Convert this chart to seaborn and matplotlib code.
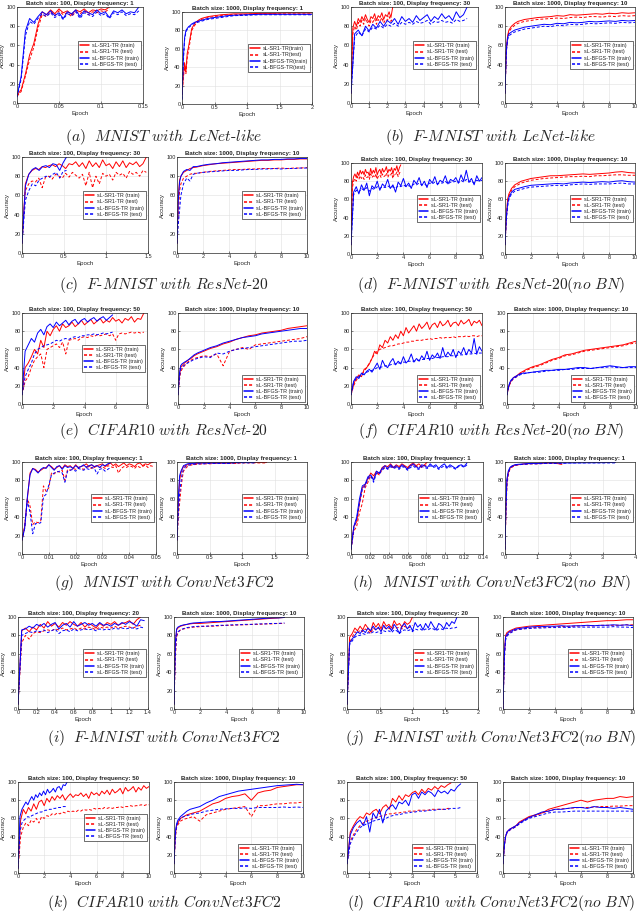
import numpy as np
import pandas as pd
import matplotlib
matplotlib.use('Agg')
import matplotlib.pyplot as plt
import seaborn as sns
from matplotlib.lines import Line2D
from matplotlib.ticker import FuncFormatter

# --- curve values (accuracy %), one list per curve ---
# left panels: evenly spaced points from 0 to the curve end (epochs)
# right panels: values at the panel x list

# (a) MNIST with LeNet-like
a1_end = [0.11, 0.11, 0.145, 0.145]
a1_sr1_tr = [8, 14, 30, 50, 62, 82, 95, 92, 97, 93, 98, 94, 96, 92, 97, 95, 98, 94, 97, 96, 98, 97, 100]
a1_sr1_te = [7, 12, 28, 45, 58, 78, 92, 90, 95, 91, 96, 92, 94, 90, 95, 93, 96, 92, 95, 94, 96, 95, 98]
a1_bf_tr = [7, 28, 75, 88, 84, 90, 95, 92, 96, 91, 94, 88, 95, 93, 97, 90, 96, 94, 92, 97, 93, 95, 89, 96, 94, 97, 93, 95, 94, 100]
a1_bf_te = [6, 25, 70, 85, 82, 88, 93, 90, 94, 89, 92, 87, 93, 91, 95, 88, 94, 92, 90, 95, 91, 93, 88, 94, 92, 95, 91, 93, 92, 96]

a2_x = [0, 0.02, 0.04, 0.06, 0.08, 0.1, 0.12, 0.15, 0.2, 0.25, 0.3, 0.4, 0.5, 0.6, 0.7, 0.8, 1.0, 1.2, 1.4, 1.6, 1.8, 2.0]
a2_sr1_tr = [10, 30, 45, 35, 55, 62, 70, 82, 88, 91, 93, 95, 96, 97, 97.5, 98, 98, 98.5, 98.5, 99, 99, 99]
a2_sr1_te = [10, 28, 40, 33, 50, 58, 66, 80, 86, 90, 92, 94, 95, 96, 97, 97, 97.5, 98, 98, 98, 98, 98]
a2_bf_tr = [5, 50, 72, 80, 82, 84, 85, 87, 89, 90, 91, 93, 94, 95, 96, 96.5, 97, 97.5, 97.5, 97.5, 97.5, 97.5]
a2_bf_te = [5, 45, 70, 78, 81, 83, 84, 86, 88, 89, 90, 92, 93, 94, 95, 96, 96.5, 97, 97, 97, 97, 97]

# shared x list for the batch-1000 panels that run over 10 epochs
x_ep10 = [0, 0.1, 0.2, 0.3, 0.5, 0.75, 1, 1.25, 1.5, 2, 2.5, 3, 3.5, 4, 4.5, 5, 5.5, 6, 6.5, 7, 7.5, 8, 8.5, 9, 9.5, 10]

# (b) F-MNIST with LeNet-like
b1_end = [2.3, 2.3, 6.4, 6.4]
b1_sr1_tr = [10, 78, 85, 80, 88, 84, 90, 86, 92, 87, 84, 90, 88, 93, 86, 91, 89, 94, 87, 92, 90, 95, 89, 100]
b1_sr1_te = [10, 72, 80, 76, 84, 80, 86, 82, 88, 84, 80, 86, 84, 88, 82, 87, 85, 89, 83, 87, 86, 90, 85, 88]
b1_bf_tr = [10, 72, 76, 70, 80, 75, 82, 78, 85, 80, 86, 83, 88, 82, 90, 85, 88, 84, 91, 86, 89, 92, 85, 90, 87, 93, 88, 91, 86, 95, 89, 92, 100]
b1_bf_te = [10, 68, 74, 70, 77, 74, 79, 77, 81, 78, 82, 80, 83, 80, 84, 82, 84, 82, 85, 83, 84, 86, 82, 85, 84, 86, 84, 85, 83, 87, 85, 86, 88]

b2_sr1_tr = [10, 55, 70, 76, 80, 83, 85, 86, 87, 88, 89, 89.5, 90, 91, 90.5, 92, 91.5, 92, 92.5, 93, 92.5, 93.5, 93, 94, 93.5, 94]
b2_sr1_te = [10, 53, 68, 74, 78, 81, 83, 84, 85, 86, 87, 87.5, 88, 88.5, 88, 89, 89.5, 89, 90, 90, 89.5, 90.5, 90, 91, 90.5, 91]
b2_bf_tr = [10, 55, 68, 72, 74, 76, 77, 78, 79, 80, 81, 82, 81.5, 83, 82.5, 84, 83.5, 84, 85, 84.5, 85, 85.5, 85, 86, 85.5, 86]
b2_bf_te = [10, 53, 66, 70, 72, 74, 75, 76, 77, 78, 79, 80, 79.5, 81, 80.5, 82, 81.5, 82, 83, 82.5, 83, 83.5, 83, 84, 83.5, 84]

# (c) F-MNIST with ResNet-20
c1_end = [1.48, 1.48, 0.53, 0.53]
c1_sr1_tr = [10, 72, 82, 86, 88, 87, 90, 89, 91, 92, 90, 93, 91, 88, 93, 92, 95, 90, 94, 88, 96, 90, 94, 89, 97, 91, 93, 88, 95, 90, 96, 89, 94, 92, 95, 90, 93, 100]
c1_sr1_te = [10, 65, 72, 75, 74, 78, 68, 79, 80, 77, 82, 80, 78, 83, 79, 84, 81, 78, 82, 70, 84, 68, 80, 72, 83, 80, 82, 76, 84, 81, 83, 78, 85, 82, 84, 80, 86, 84]
c1_bf_tr = [10, 70, 82, 87, 89, 86, 90, 91, 89, 93, 92, 86, 94, 100]
c1_bf_te = [10, 55, 65, 72, 70, 76, 78, 80, 79, 82, 84, 78, 85, 86]

c2_sr1_tr = [10, 60, 76, 80, 84, 86, 88, 89, 89.5, 91, 92, 93, 93.5, 94, 94.5, 95, 95.5, 96, 96.5, 96.5, 97, 97, 97.5, 97.5, 98, 98]
c2_sr1_te = [10, 40, 65, 72, 78, 80, 82, 83, 83, 84, 85, 85.5, 86, 86.5, 87, 87, 87.5, 87.5, 88, 88, 88, 88.5, 88, 88.5, 88.5, 89]
c2_bf_tr = [10, 55, 74, 80, 85, 87, 86, 90, 90, 91.5, 92.5, 93, 94, 94.5, 95, 95.5, 96, 96.5, 97, 97, 97.5, 97.5, 98, 98, 98.5, 98.5]
c2_bf_te = [10, 30, 45, 60, 72, 78, 75, 82, 83, 84, 84.5, 85, 85.5, 86, 86, 86.5, 87, 87, 87.5, 87.5, 88, 87.5, 88, 88, 88.5, 88.5]

# (d) F-MNIST with ResNet-20(no BN)
d1_end = [3.8, 3.8, 10, 10]
d1_sr1_tr = [10, 78, 85, 88, 84, 90, 86, 92, 88, 91, 87, 93, 89, 90, 86, 94, 88, 92, 89, 95, 87, 91, 93, 88, 94, 90, 92, 96, 89, 93, 91, 95, 88, 94, 92, 97, 90, 95, 98]
d1_sr1_te = [10, 72, 80, 83, 80, 85, 82, 86, 83, 85, 82, 87, 84, 85, 82, 88, 84, 86, 84, 88, 82, 86, 87, 84, 88, 85, 86, 89, 84, 87, 86, 89, 83, 88, 87, 90, 85, 89, 91]
d1_bf_tr = [10, 68, 74, 66, 76, 70, 78, 64, 75, 72, 80, 70, 77, 74, 82, 72, 76, 68, 79, 75, 83, 74, 78, 72, 81, 77, 84, 75, 80, 73,
            82, 78, 85, 76, 81, 79, 86, 77, 82, 80, 84, 78, 87, 80, 92, 79, 83, 76, 86, 80, 84]
d1_bf_te = [10, 65, 70, 68, 72, 70, 73, 69, 72, 71, 74, 72, 74, 73, 75, 73, 74, 72, 75, 74, 76, 74, 75, 74, 77, 76, 78, 76, 77, 75,
            78, 77, 79, 77, 78, 78, 80, 77, 79, 79, 80, 78, 81, 79, 82, 79, 80, 78, 81, 80, 81]

d2_sr1_tr = [10, 40, 60, 66, 72, 76, 78, 80, 81, 83, 84, 85, 86, 86, 86.5, 87, 87.5, 88, 87.5, 88, 88.5, 89, 90, 90.5, 89.5, 89]
d2_sr1_te = [10, 38, 58, 64, 70, 74, 76, 78, 79, 81, 82, 83, 83.5, 84, 84.5, 85, 85, 85.5, 85, 86, 86, 86.5, 87, 87, 86.5, 86.5]
d2_bf_tr = [10, 40, 55, 62, 68, 71, 72, 73, 74, 75.5, 76, 76.5, 77, 77.5, 77, 78, 78.5, 79, 78.5, 79, 79.5, 79, 80, 80.5, 79.5, 79]
d2_bf_te = [10, 38, 52, 60, 66, 69, 70, 71, 72, 73.5, 74, 74.5, 75, 75.5, 75, 76, 76.5, 77, 76.5, 77, 77, 77, 77.5, 78, 77, 77]

# (e) CIFAR10 with ResNet-20
e1_end = [7.8, 7.8, 5.8, 5.8]
e1_sr1_tr = [10, 40, 45, 52, 60, 55, 70, 62, 80, 75, 82, 86, 80, 88, 84, 86, 90, 85, 88, 92, 87, 90, 93, 88, 91, 94, 89, 92, 90, 95, 91, 93, 89, 94, 92, 96, 90, 94, 93, 100]
e1_sr1_te = [10, 25, 30, 40, 48, 52, 55, 40, 60, 62, 64, 66, 62, 68, 55, 70, 71, 72, 70, 73, 74, 73, 75, 74, 76, 75, 76, 77, 75, 77, 70, 77, 78, 77, 78, 79, 78, 79, 78, 79]
e1_bf_tr = [10, 58, 65, 72, 68, 78, 82, 76, 85, 88, 84, 90, 86, 89, 92, 87, 91, 93, 88, 92, 94, 90, 93, 95, 91, 94, 96, 92, 95, 98]
e1_bf_te = [10, 30, 38, 45, 55, 60, 62, 64, 65, 66, 68, 70, 69, 71, 72, 71, 73, 74, 73, 75, 75, 76, 76, 77, 76, 77, 78, 77, 78, 79]

e2_sr1_tr = [10, 30, 40, 42, 45, 48, 50, 53, 55, 58, 61, 63, 66, 68, 71, 73, 75, 76, 78, 79, 80, 81, 83, 84, 85, 86]
e2_sr1_te = [10, 25, 35, 38, 42, 46, 48, 50, 51, 53, 52, 55, 42, 58, 60, 62, 60, 65, 66, 67, 68, 69, 70, 71, 72, 74]
e2_bf_tr = [10, 32, 42, 44, 46, 48, 51, 54, 56, 59, 62, 64, 67, 69, 71, 73, 74, 75, 77, 78, 79, 80, 81, 82, 83, 83]
e2_bf_te = [10, 28, 38, 40, 43, 45, 47, 49, 50, 52, 51, 56, 55, 58, 60, 61, 62, 63, 64, 65, 66, 67, 68, 69, 69, 70]

# (f) CIFAR10 with ResNet-20(no BN)
f1_end = [10, 10, 10, 10]
f1_sr1_tr = [10, 22, 28, 32, 30, 38, 40, 44, 50, 58, 55, 65, 62, 70, 67, 74, 70, 76, 72, 80, 75, 84, 78, 82, 86, 80, 88, 83, 86, 90,
             82, 87, 89, 84, 91, 86, 88, 92, 85, 89, 90, 86, 92, 88, 90, 93, 86, 91, 89, 92, 86]
f1_sr1_te = [10, 20, 26, 30, 32, 36, 40, 45, 50, 55, 58, 60, 61, 62, 63, 64, 64, 65, 66, 66, 67, 68, 68, 69, 69, 70, 70, 70, 71, 71,
             72, 71, 72, 72, 73, 72, 73, 73, 73, 74, 73, 74, 74, 74, 75, 74, 75, 75, 74, 75, 75]
f1_bf_tr = [10, 25, 30, 28, 34, 32, 36, 38, 35, 40, 45, 38, 48, 42, 40, 46, 50, 43, 47, 44, 52, 45, 48, 55, 46, 50, 47, 53, 49, 58,
            48, 54, 51, 56, 50, 62, 52, 57, 53, 60, 51, 58, 55, 62, 54, 60, 56, 72, 55, 63, 58]
f1_bf_te = [10, 24, 28, 30, 32, 33, 35, 36, 37, 38, 40, 40, 41, 42, 42, 43, 44, 44, 45, 45, 46, 46, 47, 47, 47, 48, 48, 49, 49, 50,
            50, 50, 51, 51, 51, 52, 52, 52, 53, 53, 53, 54, 54, 54, 55, 55, 55, 56, 55, 56, 56]

f2_sr1_tr = [10, 17, 22, 25, 29, 31, 34, 36, 38, 41, 43, 46, 49, 51, 54, 55, 57, 59, 60, 61, 62, 63, 64, 65, 67, 69]
f2_sr1_te = [10, 17, 21, 24, 28, 30, 33, 35, 37, 40, 42, 45, 48, 50, 53, 54, 56, 58, 59, 60, 61, 62, 63, 64, 66, 67]
f2_bf_tr = [10, 18, 23, 26, 29, 31, 33, 34, 34, 35, 36, 37, 37, 38, 38, 39, 40, 40, 39, 40, 41, 42, 41, 40, 41, 41]
f2_bf_te = [10, 18, 22, 25, 28, 30, 32, 33, 34, 35, 35, 36, 37, 37, 38, 38, 39, 39, 39, 40, 40, 41, 40, 40, 40, 40]

# (g) MNIST with ConvNet3FC2
g1_end = [0.049, 0.049, 0.033, 0.033]
g1_sr1_tr = [15, 30, 60, 88, 93, 92, 89, 91, 93, 94, 97, 95, 92, 94, 96, 93, 97, 95, 96, 93, 97, 94, 95, 96, 98,
             95, 97, 94, 96, 97, 98, 95, 97, 99, 96, 98, 95, 97, 99, 96, 98, 97, 95, 98, 99, 96, 98, 97, 99, 100]
g1_sr1_te = [15, 30, 60, 52, 32, 35, 34, 36, 74, 68, 72, 88, 87, 90, 89, 91, 80, 92, 91, 93, 92, 94, 93, 92, 95,
             94, 93, 95, 96, 94, 95, 93, 96, 95, 94, 96, 88, 93, 95, 94, 96, 95, 93, 96, 94, 95, 97, 94, 96, 95]
g1_bf_tr = [15, 28, 62, 86, 93, 91, 88, 92, 94, 93, 97, 94, 91, 95, 96, 92, 96, 94, 95, 93, 96, 94, 95, 97, 94, 96, 97, 95, 96, 94, 97, 96, 98, 99]
g1_bf_te = [15, 28, 58, 45, 22, 33, 33, 34, 62, 65, 75, 86, 88, 89, 90, 88, 78, 90, 91, 92, 90, 93, 92, 91, 93, 92, 94, 93, 87, 92, 93, 90, 92, 94]

g2_x = [0, 0.02, 0.04, 0.06, 0.08, 0.1, 0.13, 0.16, 0.2, 0.25, 0.3, 0.4, 0.5, 0.6, 0.7, 0.8, 0.9, 1.0, 1.1, 1.2, 1.3, 1.38]
g2_sr1_tr = [15, 55, 80, 88, 92, 95, 96, 97, 98, 98, 98.5, 99, 99, 99, 99, 99, 99, 99.5, 99.5, 99.5, 99.5, 99.5]
g2_sr1_te = [15, 40, 55, 70, 82, 90, 93, 95, 96.5, 97, 97.5, 98, 98, 98.5, 98.5, 98.5, 98.5, 99, 99, 99, 99, 99]
g2_bf_tr = [15, 60, 85, 90, 93, 96, 97, 98, 98.5, 98.5, 99, 99, 99, 99, 99, 99, 99.5, 99.5, 99.5, 99.5]
g2_bf_te = [15, 45, 65, 78, 88, 92, 95, 96, 97, 97.5, 98, 98, 98.5, 98.5, 98.5, 98.5, 99, 99, 99, 99]

# (h) MNIST with ConvNet3FC2(no BN)
h1_end = [0.081, 0.081, 0.123, 0.123]
h1_sr1_tr = [5, 30, 35, 55, 72, 75, 82, 88, 85, 90, 87, 94, 96, 95, 98, 94, 97, 95, 98, 96, 94, 97, 99, 96, 98, 95, 97, 100]
h1_sr1_te = [5, 25, 30, 45, 55, 72, 78, 85, 82, 88, 86, 92, 94, 93, 96, 93, 95, 94, 96, 95, 93, 96, 97, 95, 96, 94, 96, 97]
h1_bf_tr = [5, 30, 40, 60, 74, 76, 84, 86, 80, 90, 88, 93, 96, 93, 97, 94, 96, 93, 97, 95, 92, 96, 98, 95, 93, 97, 96, 94, 98, 95,
            97, 93, 96, 98, 94, 97, 95, 93, 96, 97, 95, 99]
h1_bf_te = [5, 28, 38, 55, 70, 74, 82, 85, 78, 88, 87, 91, 94, 92, 95, 93, 94, 92, 95, 94, 91, 94, 96, 93, 92, 95, 94, 93, 96, 94,
            95, 92, 94, 96, 93, 95, 94, 92, 95, 96, 94, 97]

h2_x = [0, 0.03, 0.06, 0.1, 0.15, 0.2, 0.3, 0.4, 0.6, 0.8, 1.0, 1.25, 1.5, 1.75, 2.0, 2.5, 3.0, 3.4]
h2_sr1_tr = [5, 50, 80, 88, 93, 95, 96.5, 97, 98, 98.5, 98.5, 99, 99, 97.5]
h2_sr1_te = [5, 48, 75, 86, 92, 94, 96, 97, 97.5, 98, 98, 98.5, 98.5, 98]
h2_bf_tr = [5, 55, 82, 90, 94, 95.5, 97, 97.5, 98, 98.5, 98.5, 99, 99, 99, 99, 99.2, 99.3, 99.5]
h2_bf_te = [5, 50, 78, 88, 93, 95, 96.5, 97, 97.5, 98, 98, 98.5, 98.5, 98.5, 99, 99, 99, 99]

# (i) F-MNIST with ConvNet3FC2
i1_end = [1.32, 1.32, 1.36, 1.36]
i1_sr1_tr = [5, 85, 88, 84, 89, 86, 92, 88, 95, 90, 93, 89, 94, 91, 95, 92, 90, 94, 89, 93, 91, 88, 93, 90, 94, 92, 95, 91, 93, 94, 96, 92, 97, 100]
i1_sr1_te = [5, 72, 80, 76, 82, 84, 83, 85, 86, 85, 87, 86, 88, 86, 87, 88, 86, 88, 87, 89, 88, 86, 89, 88, 89, 88, 90, 88, 89, 90, 89, 88, 90, 91]
i1_bf_tr = [5, 86, 87, 90, 88, 92, 90, 93, 89, 92, 94, 87, 91, 93, 89, 95, 90, 92, 94, 91, 93, 90, 94, 91, 92, 90, 93, 91, 94, 92, 95, 93, 90, 97, 96]
i1_bf_te = [5, 80, 82, 84, 83, 85, 84, 86, 83, 85, 87, 82, 85, 86, 84, 87, 85, 86, 87, 86, 87, 85, 87, 86, 87, 86, 88, 87, 88, 87, 88, 88, 87, 89, 88]

i2_sr1_tr = [5, 70, 86, 88, 90, 91, 92, 92.5, 93, 93, 93.5, 94, 94.5, 95, 95.5, 96, 96.5, 97, 97.5, 98, 98.5, 99, 99.5]
i2_sr1_te = [5, 55, 78, 83, 86, 87, 88, 88.5, 89, 89.5, 90, 90, 90.5, 91, 91, 91.5, 91.5, 92, 92, 92.5, 92.5, 93, 93]
i2_bf_tr = [5, 72, 87, 89, 90.5, 91.5, 92, 93, 93.5, 94, 94.5, 95, 95, 95.5, 96, 96.5, 97, 97.5, 98, 98.5, 99, 99, 99.5]
i2_bf_te = [5, 60, 80, 84, 86, 87.5, 88.5, 89, 89.5, 90, 90, 90.5, 91, 91, 91.5, 91.5, 92, 92, 92.5, 92.5, 93, 93, 93.5]

# (j) F-MNIST with ConvNet3FC2(no BN)
j1_end = [1.0, 1.0, 1.68, 1.68]
j1_sr1_tr = [5, 78, 82, 88, 85, 90, 86, 92, 88, 84, 94, 89, 93, 87, 95, 90, 92, 88, 96, 91, 93, 89, 95, 92, 94, 100]
j1_sr1_te = [5, 72, 78, 84, 82, 86, 84, 87, 85, 82, 88, 86, 88, 85, 89, 87, 88, 86, 89, 88, 89, 87, 90, 88, 89, 91]
j1_bf_tr = [5, 72, 76, 80, 84, 82, 86, 83, 88, 85, 90, 86, 89, 84, 91, 87, 90, 85, 92, 88, 82, 90, 93, 87, 91, 85, 94, 89, 92, 86,
            93, 88, 95, 90, 86, 93, 91, 87, 94, 90, 95, 93, 100]
j1_bf_te = [5, 70, 74, 78, 80, 80, 82, 81, 83, 82, 84, 83, 84, 82, 85, 84, 85, 83, 86, 85, 82, 85, 86, 85, 86, 84, 87, 86, 87, 85,
            87, 86, 88, 87, 85, 87, 87, 86, 88, 87, 88, 88, 89]

j2_sr1_tr = [0, 60, 80, 83, 85, 86.5, 88, 88.5, 89, 90, 90.5, 91, 91.5, 92, 92.5, 93, 93.5, 94, 94.5, 95, 95.5, 96, 96, 96.5, 97, 97]
j2_sr1_te = [0, 55, 76, 80, 83, 84.5, 86, 86.5, 87, 88, 88.5, 89, 89, 89.5, 89.5, 90, 90, 90.5, 90.5, 90.5, 91, 91, 91, 91, 91.5, 91.5]
j2_bf_tr = [0, 58, 78, 81, 84, 85.5, 87, 87.5, 88, 89, 89.5, 89.5, 90, 90, 90.5, 90, 90.5, 90.5, 91, 90.5, 91, 91, 91.5, 91, 91.5, 90.5]
j2_bf_te = [0, 55, 75, 79, 82, 84, 86, 86.5, 87, 87.5, 88, 88, 88.5, 88.5, 89, 88.5, 89, 89, 89, 89, 89, 89, 89.5, 89, 89, 88.5]

# (k) CIFAR10 with ConvNet3FC2
k1_end = [10, 10, 3.75, 3.75]
k1_sr1_tr = [5, 58, 70, 65, 72, 68, 76, 70, 78, 80, 74, 82, 78, 84, 80, 85, 82, 86, 80, 84, 87, 83, 86, 85, 88, 84, 87, 82, 89, 86,
             88, 85, 90, 87, 91, 86, 92, 88, 90, 93, 87, 94, 90, 92, 95, 89, 94, 91, 96, 93, 95]
k1_sr1_te = [5, 40, 50, 55, 52, 58, 56, 60, 55, 62, 60, 63, 62, 65, 64, 66, 65, 67, 66, 68, 67, 68, 67, 69, 68, 70, 69, 70, 69, 71,
             70, 71, 70, 72, 71, 72, 71, 72, 72, 73, 72, 73, 73, 74, 73, 74, 74, 75, 74, 75, 75]
k1_bf_tr = [5, 62, 70, 74, 78, 75, 80, 84, 80, 86, 83, 88, 85, 90, 86, 92, 88, 90, 93, 89, 94, 95, 91, 97, 96, 100]
k1_bf_te = [5, 45, 55, 58, 60, 62, 61, 63, 64, 65, 66, 67, 67, 68, 69, 69, 70, 70, 71, 71, 72, 72, 72, 73, 73, 73]

k2_sr1_tr = [10, 42, 52, 55, 60, 62, 64, 65, 66, 68, 72, 76, 78, 82, 84, 85, 87, 80, 88, 90, 91, 94, 95, 96, 97, 97]
k2_sr1_te = [10, 38, 50, 53, 57, 59, 60, 61, 62, 57, 64, 66, 68, 70, 71, 72, 73, 62, 74, 74, 75, 76, 76, 77, 77, 78]
k2_bf_tr = [10, 44, 54, 58, 62, 65, 68, 70, 71, 73, 77, 80, 84, 86, 88, 90, 91, 92, 93, 94, 95, 96, 96.5, 97, 97.5, 97]
k2_bf_te = [10, 40, 52, 56, 60, 62, 63, 64, 65, 66, 68, 69, 70, 70.5, 71, 71, 71.5, 71, 72, 72, 72, 72, 72.5, 72, 72.5, 72]

# (l) CIFAR10 with ConvNet3FC2(no BN)
l1_end = [4.8, 4.8, 5.25, 5.25]
l1_sr1_tr = [10, 45, 52, 58, 62, 60, 66, 64, 68, 70, 65, 72, 75, 70, 82, 78, 85, 80, 86, 84, 88, 90, 86, 92, 88, 93, 91, 95, 92, 96, 94, 97, 99]
l1_sr1_te = [10, 35, 42, 48, 52, 55, 57, 58, 60, 61, 62, 63, 64, 65, 65, 66, 66, 67, 67, 68, 68, 68, 69, 69, 69, 69, 70, 70, 70, 70, 70, 71, 71]
l1_bf_tr = [10, 42, 50, 55, 58, 52, 62, 45, 66, 60, 70, 55, 68, 72, 75, 70, 78, 76, 80, 74, 86, 88, 82, 89, 86, 90, 88, 84, 91, 88, 90, 87, 92, 90, 95, 98]
l1_bf_te = [10, 32, 40, 45, 50, 52, 54, 55, 57, 58, 59, 58, 60, 62, 63, 64, 64, 65, 66, 66, 67, 67, 68, 68, 68, 69, 69, 69, 70, 70, 70, 70, 71, 71, 71, 72]

l2_sr1_tr = [10, 30, 40, 45, 48, 50, 52, 56, 58, 62, 64, 66, 70, 72, 74, 76, 78, 80, 78, 80, 81, 82, 82, 84, 83, 84]
l2_sr1_te = [10, 30, 40, 44, 47, 49, 51, 54, 57, 61, 63, 66, 68, 70, 70.5, 71, 71.5, 72, 72, 72.5, 73, 73, 73.5, 73.5, 74, 74]
l2_bf_tr = [10, 30, 40, 45, 48, 50, 52, 55, 57, 61, 64, 67, 68, 70, 70, 71, 72, 72, 71, 73, 72, 72, 71, 72, 71, 70]
l2_bf_te = [10, 30, 40, 44, 47, 49, 51, 54, 56, 60, 62, 64, 66, 67, 67, 67.5, 68, 68, 68, 68, 68, 68, 68, 68, 68, 68]

legend_sp = ['sL-SR1-TR (train)', 'sL-SR1-TR (test)', 'sL-BFGS-TR (train)', 'sL-BFGS-TR (test)']
legend_nosp = ['sL-SR1-TR(train)', 'sL-SR1-TR(test)', 'sL-BFGS-TR(train)', 'sL-BFGS-TR(test)']

captions = [
    r'$(a)\ \ MNIST\ with\ LeNet\text{-}like$',
    r'$(b)\ \ F\text{-}MNIST\ with\ LeNet\text{-}like$',
    r'$(c)\ \ F\text{-}MNIST\ with\ ResNet\text{-}20$',
    r'$(d)\ \ F\text{-}MNIST\ with\ ResNet\text{-}20(no\ BN)$',
    r'$(e)\ \ CIFAR10\ with\ ResNet\text{-}20$',
    r'$(f)\ \ CIFAR10\ with\ ResNet\text{-}20(no\ BN)$',
    r'$(g)\ \ MNIST\ with\ ConvNet3FC2$',
    r'$(h)\ \ MNIST\ with\ ConvNet3FC2(no\ BN)$',
    r'$(i)\ \ F\text{-}MNIST\ with\ ConvNet3FC2$',
    r'$(j)\ \ F\text{-}MNIST\ with\ ConvNet3FC2(no\ BN)$',
    r'$(k)\ \ CIFAR10\ with\ ConvNet3FC2$',
    r'$(l)\ \ CIFAR10\ with\ ConvNet3FC2(no\ BN)$',
]

# --- style ---
sns.set_style('whitegrid', {'axes.edgecolor': '0.15', 'grid.color': '0.88',
                            'xtick.bottom': True, 'ytick.left': True})
plt.rcParams['font.family'] = ['Liberation Sans', 'DejaVu Sans']
plt.rcParams['mathtext.fontset'] = 'cm'
plt.rcParams.update({
    'axes.linewidth': 0.5, 'grid.linewidth': 0.4,
    'xtick.direction': 'in', 'ytick.direction': 'in',
    'xtick.major.size': 1.5, 'ytick.major.size': 1.5,
    'xtick.major.width': 0.4, 'ytick.major.width': 0.4,
    'xtick.major.pad': 1.0, 'ytick.major.pad': 1.0,
    'xtick.labelsize': 4, 'ytick.labelsize': 4,
    'axes.labelsize': 4.4, 'axes.titlesize': 4.4,
})

names = ['sr1_tr', 'sr1_te', 'bf_tr', 'bf_te']
pal = {'sr1_tr': '#ff0000', 'sr1_te': '#ff0000', 'bf_tr': '#0000ff', 'bf_te': '#0000ff'}
dsh = {'sr1_tr': '', 'sr1_te': (3, 2), 'bf_tr': '', 'bf_te': (3, 2)}
LW = 0.7

W, H = 640, 916
fig = plt.figure(figsize=(6.4, 9.16), dpi=100)


def legend_handles():
    # thicker handles so the colour reads in the small legend
    hs = []
    for name in names:
        if dsh[name]:
            hs.append(Line2D([], [], color=pal[name], lw=1.1, dashes=(2, 1.3)))
        else:
            hs.append(Line2D([], [], color=pal[name], lw=1.1))
    return hs


def draw(box, curves, xmax, xstep, title, loc, labels, ends=None, xs=None):
    l, r, t, b = box
    ax = fig.add_axes([l / W, 1 - b / H, (r - l) / W, (b - t) / H])
    frames = []
    for i, (name, ys) in enumerate(zip(names, curves)):
        if ends is not None:
            x = np.linspace(0, ends[i], len(ys))
        else:
            n = min(len(xs), len(ys))
            x, ys = xs[:n], ys[:n]
        frames.append(pd.DataFrame({'Epoch': x, 'Accuracy': ys, 'curve': name}))
    df = pd.concat(frames, ignore_index=True)
    sns.lineplot(data=df, x='Epoch', y='Accuracy', hue='curve', style='curve',
                 hue_order=names, style_order=names, palette=pal, dashes=dsh,
                 linewidth=LW, estimator=None, sort=False, legend=False, ax=ax)
    ax.set_xlim(0, xmax)
    ax.set_ylim(0, 100)
    ax.set_xticks(np.arange(0, xmax + xstep / 2, xstep))
    ax.set_yticks(range(0, 101, 20))
    ax.xaxis.set_major_formatter(FuncFormatter(lambda v, p: f'{v:g}'))
    ax.set_title(title, fontweight='bold', pad=1.5)
    ax.set_xlabel('Epoch', labelpad=1)
    ax.set_ylabel('Accuracy', labelpad=1)
    ax.grid(True, color='0.88', linewidth=0.4)
    if loc == 'cr':
        kw = dict(loc='center right', bbox_to_anchor=(1.0, 0.5))
    else:
        kw = dict(loc='lower right', bbox_to_anchor=(1.0, 0.0))
    leg = ax.legend(handles=legend_handles(), labels=labels, fontsize=3.9,
                    frameon=True, fancybox=False, edgecolor='black', framealpha=1,
                    borderpad=0.35, labelspacing=0.2, handlelength=1.8,
                    handletextpad=0.5, borderaxespad=0.4, **kw)
    leg.get_frame().set_linewidth(0.4)
    return ax


def t100(f):
    return f'Batch size: 100, Display frequency: {f}'


def t1000(f):
    return f'Batch size: 1000, Display frequency: {f}'


X = x_ep10
draw((17, 143, 7, 103), [a1_sr1_tr, a1_sr1_te, a1_bf_tr, a1_bf_te], 0.15, 0.05, t100(1), 'cr', legend_sp, ends=a1_end)
draw((182, 312, 12, 104), [a2_sr1_tr, a2_sr1_te, a2_bf_tr, a2_bf_te], 2, 0.5, t1000(1), 'cr', legend_nosp, xs=a2_x)
draw((351, 478, 7, 103), [b1_sr1_tr, b1_sr1_te, b1_bf_tr, b1_bf_te], 7, 1, t100(30), 'cr', legend_sp, ends=b1_end)
draw((505, 635, 7, 103), [b2_sr1_tr, b2_sr1_te, b2_bf_tr, b2_bf_te], 10, 2, t1000(10), 'cr', legend_sp, xs=X)

draw((22, 148, 157, 253), [c1_sr1_tr, c1_sr1_te, c1_bf_tr, c1_bf_te], 1.5, 0.5, t100(30), 'cr', legend_sp, ends=c1_end)
draw((177, 307, 157, 253), [c2_sr1_tr, c2_sr1_te, c2_bf_tr, c2_bf_te], 10, 2, t1000(10), 'cr', legend_sp, xs=X)
draw((351, 482, 163, 254), [d1_sr1_tr, d1_sr1_te, d1_bf_tr, d1_bf_te], 10, 2, t100(30), 'cr', legend_sp, ends=d1_end)
draw((505, 635, 163, 254), [d2_sr1_tr, d2_sr1_te, d2_bf_tr, d2_bf_te], 10, 2, t1000(10), 'cr', legend_sp, xs=X)

draw((22, 147, 313, 404), [e1_sr1_tr, e1_sr1_te, e1_bf_tr, e1_bf_te], 8, 2, t100(50), 'cr', legend_sp, ends=e1_end)
draw((178, 307, 313, 404), [e2_sr1_tr, e2_sr1_te, e2_bf_tr, e2_bf_te], 10, 2, t1000(10), 'lr', legend_sp, xs=X)
draw((351, 482, 313, 404), [f1_sr1_tr, f1_sr1_te, f1_bf_tr, f1_bf_te], 10, 2, t100(50), 'lr', legend_sp, ends=f1_end)
draw((507, 636, 313, 404), [f2_sr1_tr, f2_sr1_te, f2_bf_tr, f2_bf_te], 10, 2, t1000(10), 'lr', legend_sp, xs=X)

draw((22, 156, 462, 554), [g1_sr1_tr, g1_sr1_te, g1_bf_tr, g1_bf_te], 0.05, 0.01, t100(1), 'cr', legend_sp, ends=g1_end)
draw((177, 307, 462, 554), [g2_sr1_tr, g2_sr1_te, g2_bf_tr, g2_bf_te], 2, 0.5, t1000(1), 'cr', legend_sp, xs=g2_x)
draw((351, 483, 462, 554), [h1_sr1_tr, h1_sr1_te, h1_bf_tr, h1_bf_te], 0.14, 0.02, t100(1), 'cr', legend_sp, ends=h1_end)
draw((505, 635, 462, 554), [h2_sr1_tr, h2_sr1_te, h2_bf_tr, h2_bf_te], 4, 1, t1000(1), 'cr', legend_sp, xs=h2_x)

draw((18, 148, 617, 709), [i1_sr1_tr, i1_sr1_te, i1_bf_tr, i1_bf_te], 1.4, 0.2, t100(20), 'cr', legend_sp, ends=i1_end)
draw((174, 304, 617, 709), [i2_sr1_tr, i2_sr1_te, i2_bf_tr, i2_bf_te], 10, 2, t1000(10), 'cr', legend_sp, xs=X)
draw((347, 478, 617, 709), [j1_sr1_tr, j1_sr1_te, j1_bf_tr, j1_bf_te], 2, 0.5, t100(20), 'cr', legend_sp, ends=j1_end)
draw((503, 633, 617, 709), [j2_sr1_tr, j2_sr1_te, j2_bf_tr, j2_bf_te], 10, 2, t1000(10), 'cr', legend_sp, xs=X)

draw((18, 149, 782, 873), [k1_sr1_tr, k1_sr1_te, k1_bf_tr, k1_bf_te], 10, 2, t100(50), 'cr', legend_sp, ends=k1_end)
draw((174, 303, 782, 873), [k2_sr1_tr, k2_sr1_te, k2_bf_tr, k2_bf_te], 10, 2, t1000(10), 'lr', legend_sp, xs=X)
draw((347, 477, 782, 873), [l1_sr1_tr, l1_sr1_te, l1_bf_tr, l1_bf_te], 6, 1, t100(50), 'lr', legend_sp, ends=l1_end)
draw((503, 633, 782, 873), [l2_sr1_tr, l2_sr1_te, l2_bf_tr, l2_bf_te], 10, 2, t1000(10), 'lr', legend_sp, xs=X)

# sub-figure captions
cap_y = [137, 285, 431, 583, 738, 903]
for i, cap in enumerate(captions):
    cx = 164 if i % 2 == 0 else 491
    fig.text(cx / W, 1 - cap_y[i // 2] / H, cap, ha='center', va='center', fontsize=11.2)

fig.savefig('out.png', dpi=100)
